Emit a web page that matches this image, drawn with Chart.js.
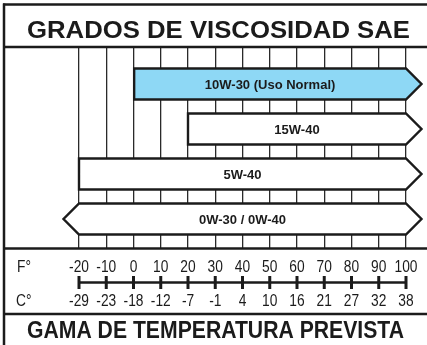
<!DOCTYPE html>
<html>
<head>
<meta charset="utf-8">
<script src="https://cdn.jsdelivr.net/npm/chart.js@4"></script>
<style>
  html, body { margin: 0; padding: 0; background: #fff; }
  canvas { display: block; }
</style>
</head>
<body>
<canvas id="sae-chart" width="427" height="345"></canvas>
<script>
// Oil grades and the temperature range (°F) each one covers
const grades = ['10W-30 (Uso Normal)', '15W-40', '5W-40', '0W-30 / 0W-40'];
const rangeStart = [0, 20, -20, -20];
const rangeEnd = [100, 100, 100, 100];
const extendsBelow = [false, false, false, true];   // left arrow on the bar
const gradeColors = ['#8ed8f5', '#ffffff', '#ffffff', '#ffffff'];

// Temperature scale
const fahrenheitTicks = [-20, -10, 0, 10, 20, 30, 40, 50, 60, 70, 80, 90, 100];
const celsiusTicks = [-29, -23, -18, -12, -7, -1, 4, 10, 16, 21, 27, 32, 38];

const titleTop = 'GRADOS DE VISCOSIDAD SAE';
const titleBottom = 'GAMA DE TEMPERATURA PREVISTA';

const INK = '#1b1b1b';
const FONT = '"Liberation Sans", Arial, Helvetica, sans-serif';

// draw text squeezed/stretched horizontally
function drawText(ctx, text, x, y, font, sx, align) {
    ctx.save();
    ctx.font = font;
    ctx.translate(x, y);
    ctx.scale(sx, 1);
    ctx.textAlign = align || 'center';
    ctx.textBaseline = 'alphabetic';
    ctx.fillStyle = INK;
    ctx.fillText(text, 0, 0);
    ctx.restore();
}

function fitText(ctx, text, cx, y, font, width) {
    ctx.save();
    ctx.font = font;
    const w = ctx.measureText(text).width;
    ctx.restore();
    drawText(ctx, text, cx, y, font, width / w, 'center');
}

function hLine(ctx, x1, x2, y, w) {
    ctx.beginPath();
    ctx.moveTo(x1, y);
    ctx.lineTo(x2, y);
    ctx.lineWidth = w;
    ctx.strokeStyle = INK;
    ctx.stroke();
}

// white page, frame and titles
const framePlugin = {
    id: 'frame',
    beforeDraw(chart) {
        const ctx = chart.ctx;
        ctx.save();
        ctx.fillStyle = '#fff';
        ctx.fillRect(0, 0, chart.width, chart.height);
        ctx.restore();
    },
    afterDraw(chart) {
        const ctx = chart.ctx;
        const W = chart.width;
        ctx.save();
        hLine(ctx, 3, W, 4.5, 2.5);
        hLine(ctx, 3, W, 47, 2.5);
        hLine(ctx, 3, W, 248.5, 2.5);
        hLine(ctx, 3, W, 314, 2.5);
        ctx.beginPath();
        ctx.moveTo(4, 3.5);
        ctx.lineTo(4, chart.height);
        ctx.lineWidth = 2.5;
        ctx.strokeStyle = INK;
        ctx.stroke();

        fitText(ctx, titleTop, 218.5, 37.5, 'bold 23px ' + FONT, 383);
        fitText(ctx, titleBottom, 215.5, 338, 'bold 23px ' + FONT, 377);
        ctx.restore();
    }
};

// bars with arrow heads, drawn from the bar elements' geometry
const arrowBarPlugin = {
    id: 'arrowBars',
    afterDatasetsDraw(chart) {
        const ctx = chart.ctx;
        const meta = chart.getDatasetMeta(0);
        meta.data.forEach((bar, i) => {
            const p = bar.getProps(['x', 'y', 'base', 'height'], true);
            const left = Math.min(p.x, p.base);
            const right = Math.max(p.x, p.base);
            const top = p.y - p.height / 2;
            const bottom = p.y + p.height / 2;
            const tip = p.height / 2;

            ctx.save();
            ctx.beginPath();
            ctx.moveTo(left, top);
            ctx.lineTo(right, top);
            ctx.lineTo(right + tip, p.y);
            ctx.lineTo(right, bottom);
            ctx.lineTo(left, bottom);
            if (extendsBelow[i]) {
                ctx.lineTo(left - tip, p.y);
            }
            ctx.closePath();
            ctx.fillStyle = gradeColors[i];
            ctx.fill();
            ctx.lineWidth = 2.4;
            ctx.lineJoin = 'miter';
            ctx.strokeStyle = INK;
            ctx.stroke();

            ctx.font = 'bold 13px ' + FONT;
            ctx.fillStyle = INK;
            ctx.textAlign = 'center';
            ctx.textBaseline = 'middle';
            ctx.fillText(grades[i], (left + right) / 2, p.y + 1);
            ctx.restore();
        });
    }
};

// °F / °C ruler under the chart, placed on the x scale
const rulerPlugin = {
    id: 'ruler',
    afterDraw(chart) {
        const ctx = chart.ctx;
        const xs = chart.scales.x;
        const axisY = 282.5;
        const small = '16px ' + FONT;
        const sx = 0.86;

        ctx.save();
        hLine(ctx, xs.getPixelForValue(fahrenheitTicks[0]),
            xs.getPixelForValue(fahrenheitTicks[fahrenheitTicks.length - 1]), axisY, 2.5);
        fahrenheitTicks.forEach((f, i) => {
            const px = xs.getPixelForValue(f);
            ctx.beginPath();
            ctx.moveTo(px, axisY - 6.5);
            ctx.lineTo(px, axisY + 6.5);
            ctx.lineWidth = 3;
            ctx.strokeStyle = INK;
            ctx.stroke();
            drawText(ctx, String(f), px, 271.5, small, sx);
            drawText(ctx, String(celsiusTicks[i]), px, 306, small, sx);
        });
        drawText(ctx, 'F°', 17, 271.5, small, sx, 'left');
        drawText(ctx, 'C°', 16, 306, small, sx, 'left');
        ctx.restore();
    }
};

const ctx = document.getElementById('sae-chart').getContext('2d');
new Chart(ctx, {
    type: 'bar',
    data: {
        labels: grades,
        datasets: [{
            data: grades.map((g, i) => ({ x: [rangeStart[i], rangeEnd[i]], y: i })),
            backgroundColor: 'rgba(0,0,0,0)',
            borderWidth: 0,
            barThickness: 31
        }]
    },
    options: {
        indexAxis: 'y',
        responsive: false,
        animation: false,
        devicePixelRatio: 1,
        layout: { padding: { left: 79, right: 21, top: 48, bottom: 97 } },
        plugins: {
            legend: { display: false },
            tooltip: { enabled: false },
            title: { display: false }
        },
        scales: {
            x: {
                type: 'linear',
                min: -20,
                max: 100,
                ticks: { display: false, stepSize: 10 },
                grid: { color: '#2a2a2a', lineWidth: 1.3, drawTicks: false },
                border: { display: false }
            },
            y: {
                type: 'linear',
                reverse: true,
                offset: false,
                min: -0.8,
                max: 3.644,
                display: false
            }
        }
    },
    plugins: [framePlugin, arrowBarPlugin, rulerPlugin]
});
</script>
</body>
</html>
